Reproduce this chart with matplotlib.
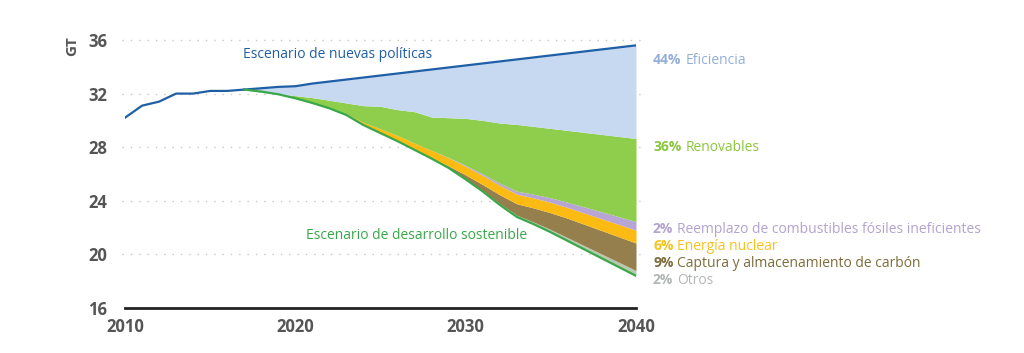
import numpy as np
import matplotlib.pyplot as plt

plt.rcParams['font.family'] = ['Open Sans', 'DejaVu Sans']

# Historical emissions (GT)
hist_years = [2010, 2011, 2012, 2013, 2014, 2015, 2016, 2017]
hist_values = [30.2, 31.1, 31.4, 32.0, 32.0, 32.2, 32.2, 32.3]

# Projections 2017-2040
proj_years = list(range(2017, 2041))
new_policies = [32.3, 32.4, 32.5, 32.55, 32.75, 32.9, 33.05, 33.2, 33.35, 33.5, 33.65, 33.8,
                33.95, 34.1, 34.25, 34.4, 34.55, 34.7, 34.85, 35.0, 35.15, 35.3, 35.45, 35.6]
sustainable = [32.3, 32.15, 31.95, 31.65, 31.3, 30.9, 30.4, 29.65, 29.05, 28.45, 27.8, 27.15,
               26.45, 25.6, 24.7, 23.7, 22.8, 22.25, 21.65, 21.0, 20.35, 19.7, 19.05, 18.4]
# upper edge of renewables wedge (lower edge of efficiency wedge)
renewables_top = [32.3, 32.1, 31.95, 31.85, 31.7, 31.5, 31.3, 31.1, 31.05, 30.8, 30.65, 30.25,
                  30.2, 30.15, 30.0, 29.8, 29.7, 29.55, 29.4, 29.25, 29.1, 28.95, 28.8, 28.65]

# wedge thicknesses, bottom to top
otros = [0] * 13 + [0.03, 0.06, 0.1, 0.13, 0.16, 0.2, 0.24, 0.28, 0.32, 0.36, 0.4]
captura = [0] * 11 + [0.05, 0.15, 0.3, 0.45, 0.65, 0.85, 1.05, 1.25, 1.45, 1.6, 1.75, 1.9, 2.05]
nuclear = [0] * 6 + [0.08, 0.2, 0.32, 0.42, 0.5, 0.56, 0.6, 0.64, 0.68, 0.7, 0.72, 0.75,
                     0.78, 0.8, 0.84, 0.88, 0.92, 0.95]
reemplazo = [0] * 12 + [0.03, 0.07, 0.12, 0.17, 0.22, 0.28, 0.34, 0.4, 0.46, 0.52, 0.58, 0.65]

legend_items = [
    ("44%", "Eficiencia", "#93aed8", 60),
    ("36%", "Renovables", "#8cc63f", 147),
    ("2%", "Reemplazo de combustibles fósiles ineficientes", "#b3a3cf", 229),
    ("6%", "Energía nuclear", "#f6c21c", 246),
    ("9%", "Captura y almacenamiento de carbón", "#7d6c3a", 263),
    ("2%", "Otros", "#b3b6b6", 280),
]

C_EFF = "#c6d9f1"
C_REN = "#8fce4c"
C_REE = "#b7a6d3"
C_NUC = "#fbbb12"
C_CCS = "#957f4c"
C_OTR = "#b9c9ae"
C_BLUE = "#1f5fa6"
C_GREEN = "#3aa84a"

fig = plt.figure(figsize=(10.24, 3.53), dpi=100)
ax = fig.add_axes([125 / 1024, 1 - 308 / 353, 511 / 1024, 268 / 353])

x = np.array(proj_years)
base = np.array(sustainable)
layers = [(otros, C_OTR), (captura, C_CCS), (nuclear, C_NUC), (reemplazo, C_REE)]
for vals, col in layers:
    top = base + np.array(vals)
    ax.fill_between(x, base, top, color=col, lw=0)
    base = top
ax.fill_between(x, base, renewables_top, color=C_REN, lw=0)
ax.fill_between(x, renewables_top, new_policies, color=C_EFF, lw=0)

ax.plot(hist_years, hist_values, color=C_BLUE, lw=1.6, zorder=5)
ax.plot(proj_years, new_policies, color=C_BLUE, lw=1.6, zorder=5)
ax.plot(proj_years, sustainable, color=C_GREEN, lw=1.6, zorder=5)

ax.text(2016.93, 34.9, "Escenario de nuevas políticas", color=C_BLUE, fontsize=10,
        va='center', ha='left')
ax.text(2020.6, 21.4, "Escenario de desarrollo sostenible", color=C_GREEN, fontsize=10,
        va='center', ha='left')

ax.set_xlim(2010, 2040)
ax.set_ylim(16, 36)
ax.set_yticks([16, 20, 24, 28, 32, 36])
ax.set_xticks([2010, 2020, 2030, 2040])
for gy in [20, 24, 28, 32, 36]:
    ax.plot([2009.8, 2040.3], [gy, gy], color="#c8c8c8", lw=1, ls=(0, (1, 5)),
            zorder=0, clip_on=False)

for s in ['top', 'right', 'left']:
    ax.spines[s].set_visible(False)
ax.spines['bottom'].set_color("#222222")
ax.spines['bottom'].set_linewidth(2)
ax.tick_params(length=0, labelsize=12, labelcolor="#555555")
ax.tick_params(axis='y', pad=13)
ax.tick_params(axis='x', pad=7)
for lab in ax.get_xticklabels() + ax.get_yticklabels():
    lab.set_fontweight('bold')
ax.patch.set_alpha(0)

fig.text(72 / 1024, 1 - 46 / 353, "GT", rotation=90, fontsize=11, fontweight='bold',
         color="#555555", ha='center', va='center')

fig.canvas.draw()
renderer = fig.canvas.get_renderer()
for pct, label, col, ypx in legend_items:
    yb = 1 - (ypx + 4) / 353
    t = fig.text(653 / 1024, yb, pct, color=col, fontsize=10,
                 fontweight='bold', va='baseline', ha='left')
    bb = t.get_window_extent(renderer)
    fig.text((bb.x1 + 4) / 1024, yb, label, color=col, fontsize=10,
             va='baseline', ha='left')

fig.savefig("out.png", dpi=100)
